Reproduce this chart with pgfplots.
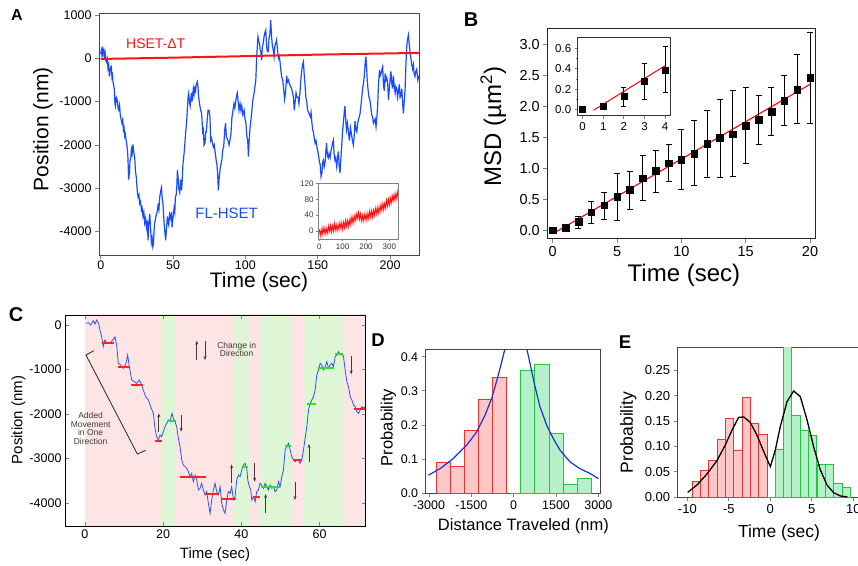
\documentclass[border=0pt]{standalone}
\usepackage{fontspec}
\setmainfont{Liberation Sans}
\usepackage{pgfplots}
\pgfplotsset{compat=1.18}
\usetikzlibrary{arrows.meta}

\newcommand{\fs}[1]{\fontsize{#1}{#1}\selectfont}

\definecolor{ablue}{RGB}{25,75,255}
\definecolor{ared}{RGB}{255,20,20}
\definecolor{cblue}{RGB}{45,85,235}
\definecolor{cpink}{RGB}{253,229,229}
\definecolor{cgreen}{RGB}{222,246,214}
\definecolor{segred}{RGB}{255,35,35}
\definecolor{seggreen}{RGB}{40,225,40}
\definecolor{arr}{RGB}{70,55,55}
\definecolor{hred}{RGB}{240,50,50}
\definecolor{hredfill}{RGB}{255,200,200}
\definecolor{hgreen}{RGB}{30,200,60}
\definecolor{hgreenfill}{RGB}{182,240,200}
\definecolor{dblue}{RGB}{25,50,220}
\definecolor{frame}{RGB}{70,70,70}

\pgfplotsset{
  panel/.style={
    scale only axis, anchor=south west, clip=true,
    tick pos=left, tick align=outside,
    major tick length=4pt, minor tick length=2.5pt,
    tick style={line width=0.8pt},
    axis line style={line width=0.8pt},
    /pgf/number format/assume math mode=true,
    /pgf/number format/1000 sep={},
    scaled ticks=false,
    xlabel style={anchor=center}, ylabel style={anchor=center},
  },
}

\begin{document}
\begin{tikzpicture}

% ---------------- A ----------------
\begin{axis}[panel, at={(99pt,310pt)}, width=320pt, height=242pt,
  xmin=-1.2, xmax=220, ymin=-4540, ymax=1046,
  xtick={0,50,100,150,200}, ytick={-4000,-3000,-2000,-1000,0,1000},
  axis line style={color=frame},
  ticklabel style={font=\fs{12.5}},
  xticklabel style={yshift=2pt},
  label style={font=\fs{21}},
  xlabel={Time (sec)}, ylabel={Position (nm)},
  xlabel style={at={(axis description cs:0.5,-0.113)}},
  ylabel style={at={(axis description cs:-0.175,0.52)}},
]
\addplot[ablue, line width=1.2pt] coordinates {
(0,100) (0.4,190) (0.9,60) (1.3,180) (1.6,110) (2.1,200) (2.6,60) (3.0,130) (3.5,-50) (3.9,-80)
(4.4,-10) (5.0,-230) (5.5,-150) (6.0,-420) (6.5,-300) (7.0,-200) (7.3,-190) (7.8,-450) (8.2,-400) (8.5,-560)
(9.0,-620) (9.4,-720) (9.8,-1050) (10.2,-1110) (10.8,-900) (11.5,-970) (12.0,-1150) (12.4,-1190) (13.0,-1080) (13.5,-1300)
(14.0,-1400) (14.7,-1500) (15.2,-1420) (15.7,-1650) (16.1,-1600) (16.6,-1800) (17.0,-1750) (17.6,-1900) (18.0,-1980) (18.4,-2100)
(18.8,-2300) (19.3,-2800) (19.8,-2650) (20.3,-2350) (20.8,-2300) (21.2,-2100) (21.7,-2200) (22.3,-1990) (22.8,-2150) (23.5,-2300)
(24.0,-2600) (24.6,-2750) (25.2,-3050) (25.8,-3200) (26.4,-3150) (26.9,-3350) (27.5,-3300) (28.1,-3500) (28.6,-3450) (29.2,-3650)
(29.8,-3550) (30.4,-3800) (31.0,-3700) (31.6,-3900) (32.2,-3750) (32.7,-4200) (33.2,-3800) (33.9,-3600) (34.5,-3950) (35.0,-4250)
(35.5,-4150) (36.0,-4350) (36.4,-4300) (37.0,-3900) (37.3,-3800) (37.9,-3700) (38.5,-3600) (39.0,-3550) (39.6,-3400) (40.2,-3500)
(40.8,-3200) (41.5,-3050) (42.0,-2980) (42.4,-3200) (43.0,-3350) (43.8,-3800) (44.3,-4000) (44.9,-4200) (45.5,-3900) (46.1,-3650)
(46.6,-3800) (47.0,-3850) (47.6,-3600) (48.4,-3700) (48.9,-3550) (49.3,-3900) (49.9,-3700) (50.7,-3450) (51.2,-3550) (51.6,-3200)
(52.2,-3150) (52.6,-2950) (53.0,-2580) (53.5,-2750) (53.9,-3000) (54.6,-3100) (55.3,-2800) (55.8,-3050) (56.2,-2900) (56.8,-2450)
(57.6,-2200) (58.0,-2050) (58.5,-1800) (59.0,-1600) (59.5,-1400) (59.9,-1150) (60.4,-900) (60.8,-810) (61.3,-1000) (61.8,-1100)
(62.2,-950) (62.7,-800) (63.1,-1000) (63.6,-850) (64.0,-700) (64.5,-830) (65.0,-650) (65.4,-800) (66.0,-600) (66.8,-540)
(67.3,-700) (67.7,-900) (68.3,-1050) (69.1,-1200) (69.6,-1250) (70.0,-1400) (70.5,-1700) (71.0,-1650) (71.4,-2000) (72.1,-1950)
(72.6,-1700) (73.0,-1700) (73.5,-1450) (74.2,-1200) (74.9,-1200) (75.5,-1350) (76.0,-1900) (76.6,-1850) (77.2,-1950) (77.9,-2050)
(78.5,-2000) (79.2,-2200) (79.8,-2350) (80.3,-2450) (80.8,-2650) (81.3,-3050) (81.8,-2800) (82.5,-2550) (83.1,-2450) (83.7,-2350)
(84.4,-2100) (85.0,-2050) (85.7,-1650) (86.3,-1500) (86.8,-1800) (87.4,-1850) (88.0,-1900) (88.7,-2000) (89.3,-1900) (90.0,-1750)
(90.6,-1400) (91.2,-1250) (92.1,-1050) (92.7,-1150) (93.3,-1000) (94.0,-850) (94.4,-800) (95.0,-1000) (95.6,-1200) (96.3,-1050)
(96.9,-1200) (97.5,-1100) (98.2,-1300) (99.1,-1200) (99.7,-1400) (100.4,-1500) (101.0,-1800) (101.6,-1900) (102.1,-2270) (102.6,-1900)
(103.2,-1600) (103.9,-1400) (104.5,-1200) (105.2,-950) (106.0,-810) (106.6,-650) (107.2,-500) (107.8,40) (108.3,300) (108.7,500)
(109.2,400) (109.7,350) (110.2,200) (110.7,150) (111.2,-40) (111.7,250) (112.3,350) (112.9,500) (113.5,600) (114.1,650)
(114.6,300) (115.2,150) (115.7,150) (116.3,450) (116.9,550) (117.5,880) (118.1,500) (118.6,300) (119.2,200) (119.8,40)
(120.4,300) (121.0,350) (121.5,420) (122.2,200) (122.8,0) (123.4,50) (124.0,-100) (124.6,-300) (125.2,-450) (125.8,-500)
(126.4,-700) (127.1,-950) (127.7,-800) (128.5,-400) (129.1,-550) (129.8,-500) (130.5,-600) (131.2,-650) (131.9,-700) (132.6,-800)
(133.2,-900) (133.8,-1200) (134.4,-1000) (135.0,-800) (135.7,-900) (136.4,-900) (137.0,-1050) (137.7,-800) (138.3,-500) (138.9,-300)
(139.5,-150) (140.1,-80) (140.6,-350) (141.2,-600) (141.8,-900) (142.4,-1000) (143.0,-1200) (143.7,-1250) (144.3,-1300) (144.9,-1350)
(145.4,-1250) (146.0,-1500) (146.5,-1650) (147.0,-1700) (147.6,-1850) (148.2,-1960) (148.8,-1900) (149.5,-2050) (150.1,-2150) (150.6,-2250)
(151.2,-2400) (151.7,-2450) (152.3,-2730) (152.9,-2650) (153.4,-2400) (153.9,-2350) (154.5,-2500) (155.1,-2400) (155.6,-2150) (156.1,-1960)
(156.7,-2250) (157.2,-2300) (157.8,-2200) (158.5,-2300) (159.1,-2150) (159.7,-2050) (160.3,-1950) (160.8,-1890) (161.3,-2200) (161.9,-2350)
(162.4,-2300) (163.1,-2500) (163.7,-2300) (164.3,-2150) (164.8,-2500) (165.4,-2650) (166.0,-2300) (166.6,-2000) (167.1,-1700) (167.7,-1500)
(168.3,-1250) (168.8,-1100) (169.4,-1450) (169.9,-1650) (170.5,-1500) (171.2,-1700) (171.9,-1900) (172.6,-1600) (173.3,-1750) (174.0,-1900)
(174.6,-2000) (175.2,-1800) (175.8,-1450) (176.4,-1650) (177.0,-1700) (177.6,-1500) (178.3,-1400) (179.3,-1270) (180.0,-1050) (180.6,-850)
(181.0,-700) (181.6,-580) (182.2,-400) (182.8,-100) (183.3,40) (183.7,-150) (184.2,-500) (184.8,-730) (185.4,-900) (186.0,-950)
(186.6,-1100) (187.3,-1300) (187.9,-1350) (188.5,-1500) (189.1,-1450) (189.7,-1400) (190.3,-1580) (190.8,-1400) (191.4,-1100) (192.0,-600)
(192.7,-270) (193.2,-400) (193.8,-350) (194.4,-250) (194.9,-190) (195.4,-600) (196.0,-750) (196.6,-350) (197.2,-500) (197.7,-450)
(198.3,-550) (198.9,-960) (199.5,-700) (200.0,-500) (200.6,-300) (201.1,-550) (201.7,-700) (202.3,-400) (202.9,-650) (203.5,-800)
(204.0,-650) (204.6,-700) (205.2,-900) (205.8,-750) (206.4,-600) (206.9,-900) (207.5,-850) (208.1,-700) (208.6,-1000) (209.2,-1270)
(209.8,-1000) (210.4,-700) (211.0,-100) (211.5,270) (212.1,450) (212.7,540) (213.3,300) (213.8,150) (214.4,0) (215.0,-150)
(215.6,-250) (216.1,-150) (216.6,-350) (217.2,-420) (217.8,-300) (218.4,-250) (219.2,-500) (219.8,-400)
};
\addplot[ared, line width=2pt] coordinates {(0,-15) (50,15) (100,50) (150,85) (220,125)};
\node[ared, font=\fs{14}] at (axis cs:38,346) {HSET-ΔT};
\node[ablue, font=\fs{15}] at (axis cs:87,-3579) {FL-HSET};
\end{axis}

% inset A
\begin{axis}[panel, at={(318pt,326pt)}, width=80pt, height=56pt,
  xmin=-5.6, xmax=337, ymin=-20, ymax=121,
  xtick={0,100,200,300}, ytick={0,40,80,120},
  axis line style={color=gray, line width=0.6pt},
  tick style={line width=0.6pt}, major tick length=2.5pt,
  axis background/.style={fill=white},
  ticklabel style={font=\fs{8}, text=black!80},
  xticklabel style={yshift=1.5pt}, yticklabel style={xshift=1.5pt},
]
\addplot[ared, line width=0.9pt] coordinates {
(0,4) (4,-12) (8,4) (12,-10) (16,9) (20,-7) (24,8) (28,-8) (32,7) (36,-5)
(40,13) (44,-1) (48,14) (52,-3) (56,13) (60,0) (64,20) (68,2) (72,17) (76,1)
(80,17) (84,4) (88,21) (92,7) (96,21) (100,4) (104,22) (108,8) (112,26) (116,11)
(120,27) (124,11) (128,28) (132,15) (136,35) (140,19) (144,36) (148,21) (152,39) (156,27)
(160,43) (164,32) (168,47) (172,30) (176,43) (180,26) (184,40) (188,25) (192,43) (196,28)
(200,43) (204,27) (208,45) (212,31) (216,51) (220,35) (224,51) (228,35) (232,52) (236,39)
(240,57) (244,43) (248,59) (252,43) (256,61) (260,48) (264,67) (268,52) (272,69) (276,53)
(280,70) (284,58) (288,78) (292,63) (296,80) (300,65) (304,83) (308,70) (312,89) (316,75)
(320,92) (324,77) (328,95) (332,81) (336,100) (340,86) (342,99)
};
\end{axis}

% ---------------- B ----------------
\begin{axis}[panel, at={(547.3pt,326.3pt)}, width=268.4pt, height=210.4pt,
  xmin=-0.42, xmax=20.44, ymin=-0.14, ymax=3.26,
  xtick={0,5,10,15,20}, ytick={0,0.5,1,1.5,2,2.5,3},
  yticklabel style={/pgf/number format/.cd, fixed, fixed zerofill, precision=1},
  axis line style={color=black!85},
  ticklabel style={font=\fs{14.5}},
  label style={font=\fs{24}},
  xlabel={Time (sec)}, ylabel={MSD (µm\textsuperscript{2})},
  xlabel style={at={(axis description cs:0.509,-0.1725)}},
  ylabel style={at={(axis description cs:-0.201,0.532)}},
]
\addplot[red, line width=1.1pt] coordinates {(0,-0.06) (20,2.355)};
\addplot[only marks, mark=square*, mark size=3.3pt, black,
  error bars/.cd, y dir=both, y explicit,
  error bar style={line width=0.9pt, black},
  error mark options={rotate=90, mark size=3pt, line width=0.9pt, black}]
coordinates {
(0,0.0) +- (0,0)
(1,0.04) +- (0,0)
(2,0.135) += (0,0.085) -= (0,0.105)
(3,0.285) += (0,0.175) -= (0,0.175)
(4,0.40) += (0,0.21) -= (0,0.23)
(5,0.54) += (0,0.38) -= (0,0.38)
(6,0.65) += (0,0.30) -= (0,0.31)
(7,0.835) += (0,0.375) -= (0,0.365)
(8,0.96) += (0,0.33) -= (0,0.35)
(9,1.08) += (0,0.31) -= (0,0.30)
(10,1.14) += (0,0.49) -= (0,0.49)
(11,1.23) += (0,0.54) -= (0,0.51)
(12,1.395) += (0,0.545) -= (0,0.545)
(13,1.49) += (0,0.62) -= (0,0.64)
(14,1.55) += (0,0.71) -= (0,0.69)
(15,1.69) += (0,0.62) -= (0,0.62)
(16,1.78) += (0,0.39) -= (0,0.39)
(17,1.91) += (0,0.39) -= (0,0.38)
(18,2.09) += (0,0.40) -= (0,0.40)
(19,2.27) += (0,0.57) -= (0,0.55)
(20,2.46) += (0,0.73) -= (0,0.74)
};
\end{axis}

% inset B
\begin{axis}[panel, at={(577.7pt,449.3pt)}, width=92.3pt, height=78pt,
  xmin=-0.24, xmax=4.24, ymin=-0.059, ymax=0.704,
  xtick={0,1,2,3,4}, ytick={0,0.2,0.4,0.6}, minor ytick={0.1,0.3,0.5},
  yticklabel style={/pgf/number format/.cd, fixed, fixed zerofill, precision=1},
  axis line style={color=black!80, line width=0.7pt},
  major tick length=3pt, minor tick length=2pt,
  axis background/.style={fill=white},
  ticklabel style={font=\fs{11.5}},
]
\addplot[red, line width=1pt] coordinates {(0.53,-0.006) (4.0,0.43)};
\addplot[only marks, mark=square*, mark size=3pt, black,
  error bars/.cd, y dir=both, y explicit,
  error bar style={line width=0.8pt, black},
  error mark options={rotate=90, mark size=2.5pt, line width=0.8pt, black}]
coordinates {
(0,0.0) +- (0,0)
(1,0.03) +- (0,0)
(2,0.127) += (0,0.092) -= (0,0.091)
(3,0.28) += (0,0.177) -= (0,0.179)
(4,0.39) += (0,0.227) -= (0,0.224)
};
\end{axis}

% ---------------- C ----------------
\begin{axis}[panel, at={(65pt,39pt)}, width=300.7pt, height=211pt,
  xmin=-5.1, xmax=71.8, ymin=-4517, ymax=225,
  tick pos=both, tick align=inside, axis on top,
  xtick={0,20,40,60}, ytick={-4000,-3000,-2000,-1000,0},
  axis line style={color=black},
  ticklabel style={font=\fs{12.5}},
  label style={font=\fs{15}},
  xlabel={Time (sec)}, ylabel={Position (nm)},
  xlabel style={at={(axis description cs:0.499,-0.136)}},
  ylabel style={at={(axis description cs:-0.155,0.502)}},
]
\addplot[fill=cpink, draw=none] coordinates {(0,-5000) (0,1000) (19.6,1000) (19.6,-5000)} -- cycle;
\addplot[fill=cgreen, draw=none] coordinates {(19.6,-5000) (19.6,1000) (23.0,1000) (23.0,-5000)} -- cycle;
\addplot[fill=cpink, draw=none] coordinates {(23.0,-5000) (23.0,1000) (37.8,1000) (37.8,-5000)} -- cycle;
\addplot[fill=cgreen, draw=none] coordinates {(37.8,-5000) (37.8,1000) (41.9,1000) (41.9,-5000)} -- cycle;
\addplot[fill=cpink, draw=none] coordinates {(41.9,-5000) (41.9,1000) (44.6,1000) (44.6,-5000)} -- cycle;
\addplot[fill=cgreen, draw=none] coordinates {(44.6,-5000) (44.6,1000) (52.8,1000) (52.8,-5000)} -- cycle;
\addplot[fill=cpink, draw=none] coordinates {(52.8,-5000) (52.8,1000) (56.0,1000) (56.0,-5000)} -- cycle;
\addplot[fill=cgreen, draw=none] coordinates {(56.0,-5000) (56.0,1000) (66.2,1000) (66.2,-5000)} -- cycle;
\addplot[fill=cpink, draw=none] coordinates {(66.2,-5000) (66.2,1000) (75,1000) (75,-5000)} -- cycle;
\addplot[cblue, line width=0.8pt] coordinates {
(0.26,37) (0.85,52) (1.45,0) (2.13,97) (2.56,22) (2.99,112) (3.50,37) (3.84,-112) (4.27,-262) (4.69,-487)
(5.12,-337) (5.55,-397) (6.40,-412) (7.25,-322) (7.68,-262) (8.11,-449) (8.53,-861) (9.13,-899) (9.81,-974) (10.49,-861)
(10.92,-674) (11.35,-936) (11.95,-1236) (12.63,-1273) (13.23,-1311) (13.91,-1236) (14.51,-1348) (14.93,-1461) (15.53,-1610) (16.21,-1685)
(16.81,-1835) (17.49,-1985) (17.92,-2322) (18.34,-2509) (18.77,-2584) (19.20,-2472) (19.62,-2509) (20.05,-2397) (20.48,-2284) (20.90,-2210)
(21.33,-2135) (21.76,-2172) (22.27,-1985) (22.61,-2097) (23.04,-2172) (23.46,-2284) (23.89,-2547) (24.32,-2734) (24.74,-3033) (25.17,-3146)
(25.60,-3183) (26.02,-3221) (26.45,-3296) (26.88,-3408) (27.30,-3333) (27.73,-3520) (28.16,-3371) (28.58,-3483) (29.01,-3708) (29.44,-3670)
(29.86,-3558) (30.29,-3708) (30.72,-3820) (31.14,-3745) (31.57,-4007) (32.00,-4232) (32.42,-3932) (32.85,-3708) (33.28,-3558) (33.70,-3745)
(34.13,-3820) (34.56,-3633) (34.98,-4007) (35.41,-4157) (35.84,-4232) (36.26,-3932) (36.69,-3745) (37.12,-3782) (37.54,-3633) (37.97,-3932)
(38.40,-3857) (38.82,-3483) (39.25,-3371) (39.68,-3408) (40.10,-3258) (40.53,-3146) (40.96,-3108) (41.38,-3221) (41.64,-3483) (42.06,-3633)
(42.41,-3708) (42.66,-3932) (43.09,-3857) (43.52,-3970) (43.94,-3745) (44.37,-3708) (44.80,-3558) (45.22,-3595) (45.65,-3670) (46.08,-3558)
(46.50,-3633) (46.93,-3708) (47.35,-3595) (47.78,-3670) (48.21,-3633) (48.63,-3745) (49.06,-3708) (49.49,-3520) (49.91,-3633) (50.34,-3408)
(50.77,-3258) (51.19,-2809) (51.62,-2734) (52.05,-2659) (52.47,-2809) (52.90,-2959) (53.33,-3033) (53.75,-3071) (54.18,-3033) (54.61,-3048)
(55.03,-3108) (55.46,-3033) (55.89,-2809) (56.31,-2547) (56.74,-2284) (57.17,-1910) (57.59,-1760) (58.02,-1685) (58.45,-1610) (58.87,-1461)
(59.30,-1124) (59.73,-1011) (60.15,-861) (60.58,-899) (61.01,-1011) (61.43,-936) (61.86,-824) (62.29,-974) (62.71,-899) (63.14,-861)
(63.57,-936) (63.99,-712) (64.42,-674) (64.85,-599) (65.27,-674) (65.70,-637) (66.13,-712) (66.55,-1011) (66.98,-1273) (67.41,-1386)
(67.83,-1610) (68.26,-1685) (68.69,-1798) (69.11,-1835) (69.54,-1947) (69.97,-1985) (70.39,-1910) (70.82,-1835) (71.25,-1873) (71.67,-1840)
};
% plateaus
\addplot[segred, line width=2pt] coordinates {(4.3,-404) (7.5,-404)};
\addplot[segred, line width=2pt] coordinates {(8.5,-950) (11.3,-950)};
\addplot[segred, line width=2pt] coordinates {(11.8,-1350) (14.8,-1350)};
\addplot[segred, line width=2pt] coordinates {(17.9,-2607) (19.8,-2607)};
\addplot[segred, line width=2pt] coordinates {(24.3,-3420) (30.9,-3420)};
\addplot[segred, line width=2pt] coordinates {(31.0,-3798) (34.2,-3798)};
\addplot[segred, line width=2pt] coordinates {(34.9,-3903) (38.7,-3903)};
\addplot[segred, line width=2pt] coordinates {(43.3,-3873) (44.8,-3873)};
\addplot[segred, line width=2pt] coordinates {(53.2,-3034) (55.5,-3034)};
\addplot[segred, line width=2pt] coordinates {(68.9,-1880) (71.8,-1880)};
\addplot[seggreen, line width=2pt] coordinates {(21.6,-2157) (23.3,-2157)};
\addplot[seggreen, line width=2pt] coordinates {(40.2,-3184) (41.8,-3184)};
\addplot[seggreen, line width=2pt] coordinates {(45.1,-3648) (49.9,-3648)};
\addplot[seggreen, line width=2pt] coordinates {(51.2,-2719) (52.7,-2719)};
\addplot[seggreen, line width=2pt] coordinates {(56.7,-1768) (59.0,-1768)};
\addplot[seggreen, line width=2pt] coordinates {(59.6,-974) (63.8,-974)};
\addplot[seggreen, line width=2pt] coordinates {(64.0,-652) (65.9,-652)};
% direction arrows
\addplot[arr, line width=0.7pt, -{Stealth[length=4pt,width=3pt]}] coordinates {(18.9,-2397) (18.9,-1985)};
\addplot[arr, line width=0.7pt, -{Stealth[length=4pt,width=3pt]}] coordinates {(24.6,-2022) (24.6,-2397)};
\addplot[arr, line width=0.7pt, -{Stealth[length=4pt,width=3pt]}] coordinates {(37.5,-3543) (37.5,-3131)};
\addplot[arr, line width=0.7pt, -{Stealth[length=4pt,width=3pt]}] coordinates {(43.4,-3108) (43.4,-3521)};
\addplot[arr, line width=0.7pt, -{Stealth[length=4pt,width=3pt]}] coordinates {(46.2,-4217) (46.2,-3798)};
\addplot[arr, line width=0.7pt, -{Stealth[length=4pt,width=3pt]}] coordinates {(53.7,-3536) (53.7,-3933)};
\addplot[arr, line width=0.7pt, -{Stealth[length=4pt,width=3pt]}] coordinates {(57.3,-3086) (57.3,-2674)};
\addplot[arr, line width=0.7pt, -{Stealth[length=4pt,width=3pt]}] coordinates {(68.1,-697) (68.1,-1109)};
\addplot[arr, line width=0.7pt, -{Stealth[length=4pt,width=3pt]}] coordinates {(28.6,-787) (28.6,-352)};
\addplot[arr, line width=0.7pt, -{Stealth[length=4pt,width=3pt]}] coordinates {(30.7,-352) (30.7,-787)};
% bracket
\addplot[black!85, line width=0.8pt] coordinates {(2.30,-577) (0.26,-674) (13.40,-2899) (15.53,-2816)};
\node[arr, font=\fs{8.5}, align=center] at (axis cs:38.8,-547) {Change in\\Direction};
\node[arr, font=\fs{8.5}, align=center] at (axis cs:1.45,-2322) {Added\\Movement\\in One\\Direction};
\end{axis}

% ---------------- D ----------------
\begin{axis}[panel, at={(425.7pt,71.7pt)}, width=175pt, height=144pt,
  xmin=-3117, xmax=3083, ymin=0, ymax=0.4217,
  xtick={-3000,-1500,0,1500,3000}, ytick={0,0.1,0.2,0.3,0.4},
  yticklabel style={/pgf/number format/.cd, fixed, fixed zerofill, precision=1},
  axis line style={color=frame},
  ticklabel style={font=\fs{12.5}},
  label style={font=\fs{16.5}},
  xlabel={Distance Traveled (nm)}, ylabel={Probability},
  xlabel style={at={(axis description cs:0.558,-0.232)}},
  ylabel style={at={(axis description cs:-0.214,0.457)}},
]
\addplot[ybar, bar width=500, bar shift=0pt, fill=hredfill, draw=hred, line width=0.9pt]
  coordinates {(-2500,0.090) (-2000,0.080) (-1500,0.183) (-1000,0.275) (-500,0.339)};
\addplot[ybar, bar width=500, bar shift=0pt, fill=hgreenfill, draw=hgreen, line width=0.9pt]
  coordinates {(500,0.359) (1000,0.377) (1500,0.175) (2000,0.0255) (2500,0.043)};
\addplot[hgreen, line width=0.9pt] coordinates {(-130,0) (250,0)};
\addplot[dblue, line width=1.2pt] coordinates {
(-3024,0.053) (-2610,0.072) (-2138,0.102) (-1665,0.141) (-1310,0.180) (-1015,0.229)
(-779,0.278) (-578,0.336) (-424,0.385) (-307,0.424) (-250,0.45)};
\addplot[dblue, line width=1.2pt] coordinates {
(400,0.45) (462,0.424) (579,0.380) (756,0.312) (933,0.253) (1170,0.199) (1405,0.160)
(1643,0.126) (1997,0.092) (2351,0.072) (2705,0.058) (3000,0.043)};
\end{axis}

% ---------------- E ----------------
\begin{axis}[panel, at={(677.7pt,67.7pt)}, width=185.6pt, height=149.6pt,
  xmin=-11.16, xmax=11.2, ymin=0, ymax=0.294,
  xtick={-10,-5,0,5,10}, ytick={0,0.05,0.1,0.15,0.2,0.25},
  yticklabel style={/pgf/number format/.cd, fixed, fixed zerofill, precision=2},
  axis line style={color=frame},
  ticklabel style={font=\fs{13}},
  label style={font=\fs{17.5}},
  xlabel={Time (sec)}, ylabel={Probability},
  xlabel style={at={(axis description cs:0.546,-0.241)}},
  ylabel style={at={(axis description cs:-0.266,0.433)}},
]
\addplot[ybar, bar width=1.0, bar shift=0pt, fill=hredfill, draw=hred, line width=0.9pt]
  coordinates {(-8.93,0.031) (-7.93,0.052) (-6.93,0.072) (-5.93,0.114) (-4.92,0.155)
               (-3.92,0.093) (-2.91,0.196) (-1.91,0.145) (-0.90,0.124)};
\addplot[ybar, bar width=1.0, bar shift=0pt, fill=hgreenfill, draw=hgreen, line width=0.9pt]
  coordinates {(1.10,0.095) (2.10,0.32) (3.10,0.160) (4.10,0.132) (5.11,0.122)
               (6.12,0.065) (7.13,0.065) (8.13,0.0275) (9.14,0.019)};
\addplot[hgreen, line width=0.9pt] coordinates {(-0.4,0) (0.6,0)};
\addplot[black, line width=1.3pt] coordinates {
(-9.96,0.0098) (-8.84,0.024) (-7.63,0.046) (-6.43,0.072) (-5.42,0.103) (-4.62,0.132)
(-3.82,0.157) (-3.2,0.158) (-2.41,0.147) (-1.61,0.122) (-0.80,0.090) (0,0.060)
(0.60,0.093) (1.20,0.139) (2.01,0.188) (2.81,0.209) (3.61,0.198) (4.42,0.152)
(5.22,0.099) (6.02,0.054) (6.83,0.024) (7.63,0.009) (8.43,0.0026) (9.3,0.0005)};
\end{axis}

% panel letters
\node[font=\bfseries\fs{16}] at (17pt,550pt) {A};
\node[font=\bfseries\fs{20}] at (471pt,545pt) {B};
\node[font=\bfseries\fs{20}] at (16pt,250pt) {C};
\node[font=\bfseries\fs{18.5}] at (378pt,225pt) {D};
\node[font=\bfseries\fs{18.5}] at (625pt,223pt) {E};

\pgfresetboundingbox
\path[use as bounding box] (0,0) rectangle (858pt,565pt);
\end{tikzpicture}
\end{document}
